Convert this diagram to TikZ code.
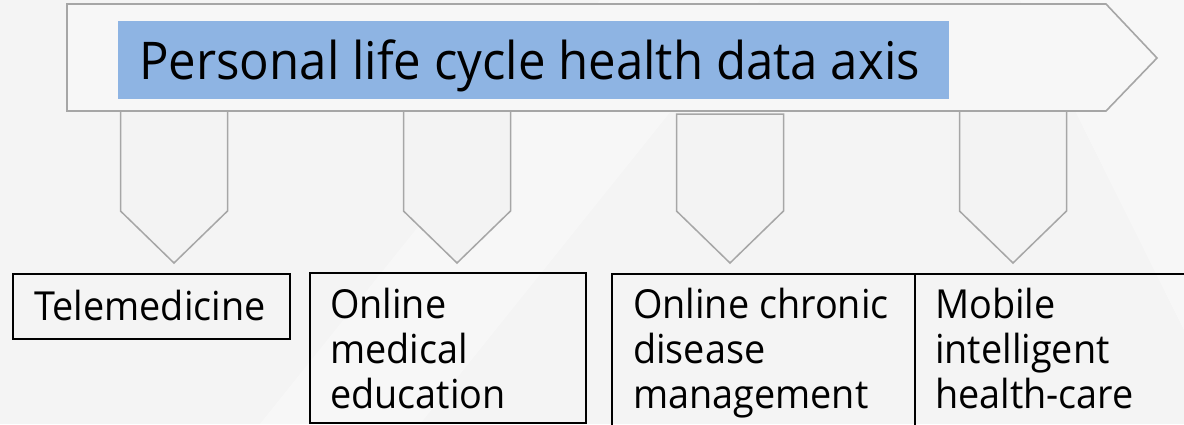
\documentclass[tikz,border=0pt]{standalone}
\usepackage{fontspec}
\setmainfont[FakeStretch=0.945]{Open Sans}
\usetikzlibrary{positioning}

\definecolor{bggray}{HTML}{F4F4F4}
\definecolor{axisgray}{HTML}{A6A6A6}
\definecolor{axisfill}{HTML}{F7F7F7}
\definecolor{pointerfill}{HTML}{F3F3F3}
\definecolor{titleblue}{HTML}{8EB4E3}

\begin{document}
\begin{tikzpicture}[x=1pt,y=-1pt,
  axisarrow/.style={draw=axisgray,line width=1.6pt,fill=axisfill},
  pointer/.style={draw=axisgray,line width=1.5pt,fill=pointerfill},
  itembox/.style={draw=black,line width=1.4pt},
  itemtext/.style={anchor=base west,align=left,inner sep=0pt,
    font=\fontsize{40}{45}\selectfont}]

\useasboundingbox[fill=bggray] (0,0) rectangle (1184,424);
% faint light bands in the background
\fill[white,opacity=0.35] (600,0) -- (760,0) -- (420,424) -- (260,424) -- cycle;
\fill[white,opacity=0.35] (1020,0) -- (1184,0) -- (1184,330) -- cycle;

% pointers under the axis
\foreach \c/\t in {174/111,457/111,730/114,1013/111}
  \draw[pointer] (\c-53.5,\t) -- (\c+53.5,\t) -- (\c+53.5,211)
    -- (\c,263) -- (\c-53.5,211) -- cycle;

% the axis
\draw[axisarrow] (67,4) -- (1106,4) -- (1157,58) -- (1106,111) -- (67,111) -- cycle;
\fill[titleblue] (118,21) rectangle (949,99);
\node[anchor=base west,inner sep=0pt,font=\fontsize{52}{60}\selectfont]
  (title) at (139,79) {Personal life cycle health data axis};

% boxes
\draw[itembox] (13,274) rectangle (290,339);
\draw[itembox] (310,273) rectangle (586,423);
\draw[itembox] (612,430) -- (612,274) -- (1190,274);
\draw[itembox] (915,274) -- (915,430);

% base of a node with several lines is its last line
\node[itemtext] (tele) at (34,320) {Telemedicine};
\node[itemtext] (edu) at (330,408) {Online\\medical\\education};
\node[itemtext] (chronic) at (633,408) {Online chronic\\disease\\management};
\node[itemtext] (mobile) at (935,408) {Mobile\\intelligent\\health-care};
\end{tikzpicture}
\end{document}
